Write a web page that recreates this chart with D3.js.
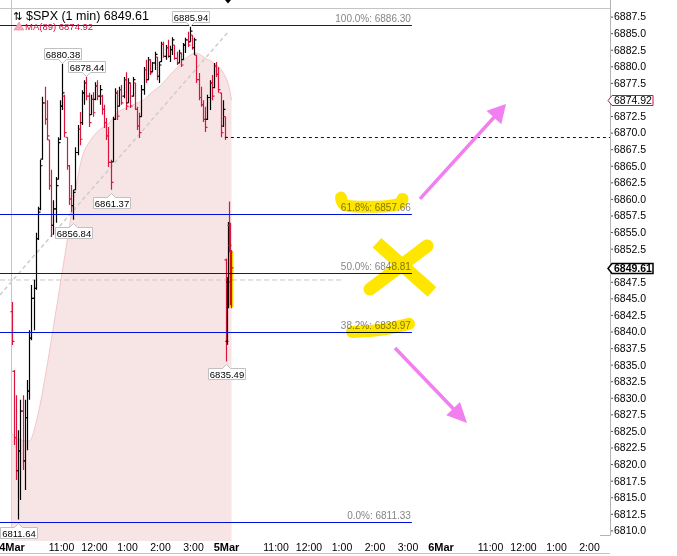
<!DOCTYPE html>
<html><head><meta charset="utf-8">
<script src="https://cdn.jsdelivr.net/npm/d3@7"></script>
<style>
html,body{margin:0;padding:0;background:#fff;}
svg{display:block;font-family:"Liberation Sans",Arial,sans-serif;}
</style></head><body>
<svg id="c" width="677" height="556"></svg>
<script>
// ---------- DATA ----------
// 4 Mar, 4-minute OHLC bars [open, high, low, close] from 9:30
const mar4Bars = [
[6843.0,6844.45,6837.96,6838.5],[6834.0,6834.2,6822.9,6824.0],[6824.0,6830.4,6817.6,6819.0],[6819.0,6825.1,6811.64,6822.0],
[6822.0,6829.7,6814.6,6828.0],[6828.0,6830.4,6819.1,6820.5],[6820.5,6829.7,6816.1,6827.0],[6827.0,6832.7,6822.1,6831.0],
[6831.0,6840.2,6829.7,6839.0],[6839.0,6847.0,6838.7,6845.0],[6845.0,6847.8,6840.2,6846.5],[6846.5,6854.9,6846.3,6854.0],
[6854.0,6858.8,6853.8,6858.0],[6858.5,6865.9,6858.3,6865.0],[6866.0,6875.4,6865.9,6874.5],[6874.5,6876.9,6871.2,6872.0],
[6872.0,6874.9,6868.9,6869.5],[6868.9,6868.9,6861.4,6862.0],[6862.0,6864.4,6854.25,6856.0],[6856.0,6859.8,6854.6,6858.5],
[6858.5,6863.3,6856.4,6862.0],[6863.0,6869.3,6862.9,6868.5],[6869.0,6874.9,6868.9,6874.0],[6874.0,6880.38,6873.4,6876.0],
[6875.5,6875.7,6869.3,6870.0],[6869.3,6869.3,6864.4,6865.0],[6865.0,6865.1,6859.1,6860.0],[6860.0,6862.1,6858.0,6859.0],
[6859.0,6861.35,6856.84,6861.0],[6861.35,6867.8,6861.35,6867.0],[6867.0,6871.15,6866.6,6870.5],[6870.5,6873.1,6868.1,6869.0],
[6871.5,6876.4,6871.15,6876.0],[6876.0,6877.9,6874.2,6877.5],[6877.5,6878.44,6874.9,6875.5],[6875.5,6876.0,6870.85,6871.5],
[6872.7,6875.7,6872.7,6875.0],[6875.0,6876.1,6872.4,6873.0],[6875.0,6877.6,6874.9,6877.0],[6877.0,6877.9,6874.9,6875.5],
[6875.5,6877.2,6874.2,6876.5],[6875.5,6875.7,6872.7,6873.5],[6873.5,6874.2,6870.7,6871.5],[6871.5,6872.2,6868.9,6869.5],
[6869.5,6870.85,6864.8,6865.5],[6865.5,6865.9,6861.37,6862.5],[6865.6,6872.4,6865.6,6872.0],[6872.0,6876.7,6871.9,6876.0],
[6876.0,6876.4,6871.9,6872.5],[6874.0,6876.9,6873.9,6876.5],[6876.5,6877.2,6874.2,6874.5],[6875.5,6878.4,6875.2,6878.0],
[6878.0,6879.1,6873.4,6874.0],[6874.5,6878.2,6874.5,6877.5],[6877.5,6877.5,6873.7,6874.0],[6875.5,6878.4,6875.4,6878.0],
[6877.5,6877.5,6873.4,6873.5],[6873.5,6873.9,6870.4,6871.0],[6871.0,6873.0,6869.2,6870.0],[6872.4,6877.2,6872.4,6876.5],
[6876.5,6879.9,6875.7,6879.5],[6879.5,6881.0,6877.5,6878.0],[6878.0,6881.4,6877.9,6881.0],[6881.0,6881.0,6878.7,6879.0],
[6879.2,6880.65,6879.1,6880.5],[6880.5,6882.2,6879.45,6881.8],[6881.4,6881.4,6877.9,6878.5],[6878.5,6880.65,6877.5,6880.2],
[6880.7,6883.7,6880.65,6883.3],[6883.3,6883.7,6881.3,6881.5],[6881.5,6883.2,6881.0,6882.8],[6882.8,6884.0,6881.3,6881.5],
[6881.5,6883.1,6880.65,6882.5],[6882.5,6884.4,6881.7,6884.0],[6883.2,6883.2,6881.0,6881.2],[6881.2,6882.2,6880.2,6880.5],
[6880.5,6882.5,6880.5,6882.0],[6882.0,6882.0,6879.9,6880.2],[6881.0,6883.5,6881.0,6883.2],[6883.2,6884.3,6882.0,6884.0],
[6884.0,6885.2,6882.9,6883.2],[6883.7,6885.94,6883.7,6885.3],[6884.7,6884.7,6882.5,6882.8],[6882.8,6884.3,6881.7,6884.0],
[6881.7,6881.7,6877.5,6878.0],[6878.0,6879.0,6874.9,6875.3],[6875.3,6876.9,6873.9,6874.2],[6874.2,6874.9,6871.6,6872.0],
[6872.0,6873.9,6870.1,6870.8],[6872.0,6875.7,6871.9,6875.3],[6875.3,6877.9,6873.4,6877.5],[6877.5,6878.7,6874.9,6875.5],
[6876.8,6880.5,6876.7,6880.0],[6880.0,6880.65,6878.4,6878.8],[6878.8,6879.9,6876.0,6876.5],[6876.0,6876.0,6869.3,6870.0],
[6871.0,6874.9,6870.85,6873.5],[6872.4,6872.4,6868.9,6869.3]
];
// 5 Mar, 2-minute OHLC bars from 9:30
const mar5Bars = [
[6850.8,6851.0,6835.49,6838.5],[6838.5,6848.2,6838.0,6847.5],[6847.5,6856.5,6843.5,6856.0],
[6856.0,6859.6,6852.0,6853.0],[6853.0,6856.4,6844.0,6852.0],[6852.0,6852.3,6843.5,6849.61]
];
// MA(89) readings: every 16 min on 4 Mar, then 5 Mar points
const maMar4 = [6824.69,6823.64,6823.49,6827.41,6834.50,6842.65,6850.94,6859.24,6866.17,6868.89,6870.40,6871.30,
  6872.96,6873.72,6874.32,6874.92,6876.13,6877.18,6878.68,6880.05,6881.41,6882.01,6881.25,6880.50,6879.14];
const maMar5 = [[390,6878.24],[396,6876.73],[400,6874.92]];
// Fibonacci retracement
const fibPct = ["100.0%","61.8%","50.0%","38.2%","0.0%"];
const fibVal = [6886.30,6857.66,6848.81,6839.97,6811.33];
const fibEndT = 728;
// pivot labels: [day, barIndex, "high"/"low"]
const pivots = [[4,3,"low"],[4,23,"high"],[4,34,"high"],[4,28,"low"],[4,45,"low"],[4,81,"high"],[5,0,"low"]];
// other lines
const prevClose = 6869.3;
const greyLevel = 6847.77, greyLevelEndT = 603;
const trendLine = [[-21,6845.5],[394,6885.2]];
const lastPrice = 6849.61, maLast = 6874.92;
// axis ticks
const yTicks = [6810,6812.5,6815,6817.5,6820,6822.5,6825,6827.5,6830,6832.5,6835,6837.5,6840,6842.5,6845,6847.5,
  6850,6852.5,6855,6857.5,6860,6862.5,6865,6867.5,6870,6872.5,6875,6877.5,6880,6882.5,6885,6887.5];
const xTickT = [0,90,150,210,270,330,390,480,540,600,660,720,780,870,930,990,1050];
const xTickLbl = ["4Mar","11:00","12:00","1:00","2:00","3:00","5Mar","11:00","12:00","1:00","2:00","3:00","6Mar","11:00","12:00","1:00","2:00"];
// hand-drawn annotations in (minutes, price)
const hl618 = [[599,6860.2],[602,6859.0],[625,6858.8],[680,6858.8],[708,6859.2],[711,6860.0]];
const hlXa = [[664.5,6853.39],[764.5,6845.98]];
const hlXb = [[755.5,6852.9],[651.8,6846.4]];
const hl382 = [[619.1,6839.94],[670,6840.09],[722.7,6841.15]];
const arrowUp = [[742.7,6860.0],[899.1,6874.3]];
const arrowDown = [[697.3,6837.5],[828.2,6826.2]];

// ---------- SCALES ----------
const svg = d3.select("#c");
const x = d3.scaleLinear().domain([0,390]).range([11.5,226]);
const y = d3.scaleLinear().domain([6810,6887.5]).range([530.4,16.6]);
const AXX = 610;
const FONT = "'Liberation Sans',Arial,sans-serif";

const bars = mar4Bars.map((d,i)=>({t:i*4,o:d[0],h:d[1],l:d[2],c:d[3]}))
  .concat(mar5Bars.map((d,i)=>({t:390+i*2,o:d[0],h:d[1],l:d[2],c:d[3]})));
const ma = maMar4.map((v,k)=>[k*16,v]).concat(maMar5);

// frame lines
svg.append("line").attr("x1",0).attr("x2",AXX).attr("y1",8.5).attr("y2",8.5).attr("stroke","#c4c4c4");
svg.append("line").attr("x1",11.5).attr("x2",11.5).attr("y1",0).attr("y2",540).attr("stroke","#c4c4c4");

// MA fill
const area = d3.area().x(d=>x(d[0])).y0(541).y1(d=>y(d[1])).curve(d3.curveMonotoneX);
svg.append("path").datum(ma).attr("d",area).attr("fill","#f7e4e4");
svg.append("path").datum(ma).attr("d",d3.line().x(d=>x(d[0])).y(d=>y(d[1])).curve(d3.curveMonotoneX))
  .attr("fill","none").attr("stroke","#f3c6cc").attr("stroke-width",1);

// grey dashed lines
svg.append("line").attr("x1",0).attr("x2",x(greyLevelEndT)).attr("y1",y(greyLevel)).attr("y2",y(greyLevel))
  .attr("stroke","#c8c8c8").attr("stroke-dasharray","5,3");
svg.append("line").attr("x1",x(trendLine[0][0])).attr("y1",y(trendLine[0][1]))
  .attr("x2",x(trendLine[1][0])).attr("y2",y(trendLine[1][1]))
  .attr("stroke","#cdcdcd").attr("stroke-width",1.5).attr("stroke-dasharray","4,3");

// bars
const bx = t => Math.round(x(t))+0.5;
svg.append("g").selectAll("path").data(bars).join("path")
  .attr("d",d=>{const X=bx(d.t);return `M${X},${y(d.h)}V${y(d.l)}M${X-2},${y(d.o)}H${X}M${X},${y(d.c)}H${X+2}`;})
  .attr("fill","none").attr("stroke",d=>d.c>=d.o?"#000":"#dc143c").attr("stroke-width",1.2);

// prev close dashed
svg.append("line").attr("x1",x(388)).attr("x2",AXX).attr("y1",Math.round(y(prevClose))+0.5).attr("y2",Math.round(y(prevClose))+0.5)
  .attr("stroke","#0000cc").attr("stroke-dasharray","3,3");

// fib lines
const fg = svg.append("g");
fibVal.forEach((v,i)=>{
  const yy = Math.round(y(v))+0.5;
  fg.append("line").attr("x1",0).attr("x2",x(fibEndT)).attr("y1",yy).attr("y2",yy).attr("stroke","#0010d8");
  fg.append("text").attr("x",x(fibEndT)-1).attr("y",yy-3.5).attr("text-anchor","end")
    .attr("font-size","10px").attr("fill","#858585").text(`${fibPct[i]}: ${v.toFixed(2)}`);
});

// pivot labels
const pg = svg.append("g");
pivots.forEach(([day,idx,kind])=>{
  const b = day===4 ? bars[idx] : bars[mar4Bars.length+idx];
  const v = kind==="high"?b.h:b.l;
  const X = bx(b.t), Y = y(v);
  const t = pg.append("text").attr("font-size","9.5px").attr("text-anchor","middle").attr("fill","#000").text(v.toFixed(2));
  const w = t.node().getComputedTextLength()+3, h = 11;
  const x0 = Math.round(X-w/2)+0.5, x1 = x0+Math.round(w);
  let p, ty;
  if(kind==="low"){
    const top = Math.round(Y+7)+0.5, tip = top-4;
    p = `M${x0},${top}H${X-4}L${X},${tip}L${X+4},${top}H${x1}V${top+h}H${x0}Z`; ty = top+9;
  } else {
    const bot = Math.round(Y-5)+0.5, tip = bot+4;
    p = `M${x0},${bot-h}H${x1}V${bot}H${X+4}L${X},${tip}L${X-4},${bot}H${x0}Z`; ty = bot-2;
  }
  pg.insert("path","text").attr("d",p).attr("fill","#fff").attr("stroke","#c0c0c0");
  t.attr("x",(x0+x1)/2).attr("y",ty);
});

// yellow highlights (multiply)
const yl = svg.append("g").style("mix-blend-mode","multiply");
const L = d3.line().x(d=>x(d[0])).y(d=>y(d[1]));
yl.append("path").attr("d",L.curve(d3.curveBasis)(hl618)).attr("fill","none").attr("stroke","#ffe600").attr("stroke-width",12).attr("stroke-linecap","round");
yl.append("path").attr("d",d3.line().x(d=>x(d[0])).y(d=>y(d[1]))(hlXa)).attr("fill","none").attr("stroke","#ffe600").attr("stroke-width",13).attr("stroke-linecap","butt");
yl.append("path").attr("d",d3.line().x(d=>x(d[0])).y(d=>y(d[1]))(hlXb)).attr("fill","none").attr("stroke","#ffe600").attr("stroke-width",13).attr("stroke-linecap","round");
yl.append("path").attr("d",d3.line().x(d=>x(d[0])).y(d=>y(d[1])).curve(d3.curveBasis)(hl382)).attr("fill","none").attr("stroke","#ffe600").attr("stroke-width",12).attr("stroke-linecap","round");
const lb = bars[bars.length-1];
yl.append("rect").attr("x",bx(lb.t)-2.5).attr("width",4.5).attr("y",y(lb.h)+2).attr("height",y(lb.l)-y(lb.h)-3).attr("fill","#ffe600");

// pink arrows
function arrow(pts,len,hw){
  const [ax,ay]=[x(pts[0][0]),y(pts[0][1])],[tx,ty]=[x(pts[1][0]),y(pts[1][1])];
  const dx=tx-ax,dy=ty-ay,d=Math.hypot(dx,dy),ux=dx/d,uy=dy/d;
  const bxp=tx-ux*len,byp=ty-uy*len;
  svg.append("line").attr("x1",ax).attr("y1",ay).attr("x2",bxp+ux*2).attr("y2",byp+uy*2).attr("stroke","#f27ff0").attr("stroke-width",3.5);
  svg.append("path").attr("d",`M${tx},${ty}L${bxp-uy*hw},${byp+ux*hw}L${bxp+uy*hw},${byp-ux*hw}Z`).attr("fill","#f27ff0");
}
arrow(arrowUp,18,10);
arrow(arrowDown,20,9.5);

// right axis (labels hidden behind the price tags are not drawn, as in the reference)
const tagVals = [maLast,lastPrice];
const ya = svg.append("g").attr("transform",`translate(${AXX},0)`)
  .call(d3.axisRight(y).tickValues(yTicks).tickFormat(d3.format(".1f")).tickSize(3).tickPadding(1));
ya.select(".domain").remove();
ya.selectAll("text").attr("font-size","10.5px").attr("font-family",FONT).attr("fill","#000")
  .filter(d=>tagVals.some(v=>Math.abs(y(v)-y(d))<8)).remove();
ya.selectAll("line").attr("stroke","#555");
svg.append("line").attr("x1",AXX+0.5).attr("x2",AXX+0.5).attr("y1",0).attr("y2",535).attr("stroke","#b4b4b4");
svg.append("line").attr("x1",AXX-10).attr("x2",AXX+0.5).attr("y1",535.5).attr("y2",535.5).attr("stroke","#b4b4b4");

// bottom axis
const xa = svg.append("g").attr("transform","translate(0,540.5)")
  .call(d3.axisBottom(x).tickValues(xTickT).tickFormat((d,i)=>xTickLbl[i]).tickSize(0).tickPadding(3));
xa.select(".domain").remove();
xa.selectAll("text").attr("font-family",FONT).attr("fill","#000")
  .attr("font-size",(d,i)=>/Mar/.test(xTickLbl[i])?"11px":"10.5px")
  .attr("font-weight",(d,i)=>/Mar/.test(xTickLbl[i])?"bold":"normal");
svg.append("line").attr("x1",0).attr("x2",AXX).attr("y1",553.5).attr("y2",553.5).attr("stroke","#c4c4c4");

// price tags
function tag(v,stroke,sw,bold){
  const Y=Math.round(y(v))+0.5, x0=AXX+2, x1=AXX+43, h=10;
  svg.append("path").attr("d",`M${x0-4},${Y}L${x0},${Y-h/2}H${x1}V${Y+h/2}H${x0}Z`).attr("fill","#fff").attr("stroke",stroke).attr("stroke-width",sw);
  svg.append("text").attr("x",x0+2).attr("y",Y+3.8).attr("font-size","10.5px").attr("font-weight",bold?"bold":"normal")
    .attr("fill","#000").text(v.toFixed(2));
}
tag(maLast,"#d01040",1,false);
tag(lastPrice,"#000",1.5,true);

// legend
svg.append("text").attr("x",13).attr("y",19.5).attr("font-family","DejaVu Sans").attr("font-size","11px").attr("fill","#000").text("⇅");
svg.append("text").attr("x",26).attr("y",19.5).attr("font-size","12.5px").attr("fill","#000").text(`$SPX (1 min) ${lastPrice.toFixed(2)}`);
svg.append("path").attr("d","M14,30L19,22L24,30Z").attr("fill","#f2a8b6").attr("stroke","#e88898").attr("stroke-width",0.6);
svg.append("text").attr("x",25).attr("y",30).attr("font-size","9.5px").attr("fill","#d01040").text(`MA(89) ${maLast.toFixed(2)}`);
// top cut mark of upper panel
svg.append("path").attr("d","M225,0H231L228,3.5Z").attr("fill","#000");
</script>
</body></html>
